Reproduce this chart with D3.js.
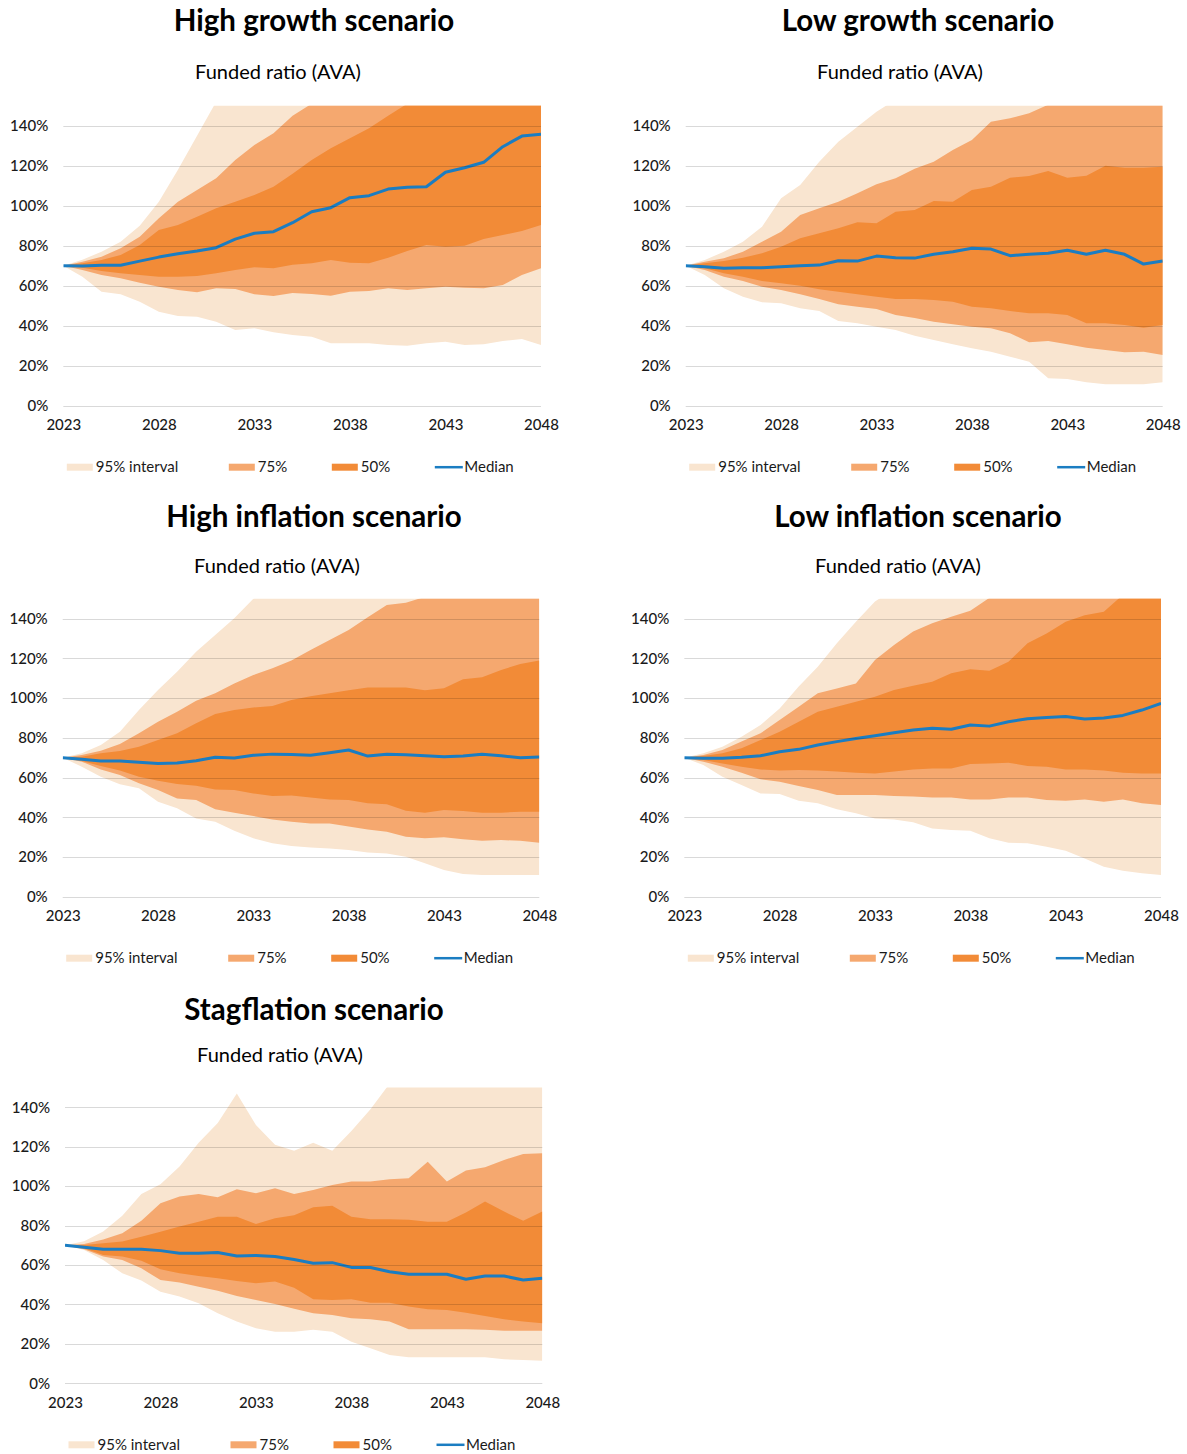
<!DOCTYPE html>
<html><head><meta charset="utf-8">
<script src="https://cdn.jsdelivr.net/npm/d3@7"></script>
<style>body{margin:0;background:#fff} svg{display:block}</style>
</head><body>
<svg id="c" width="1187" height="1454"></svg>
<script>
// ---------- DATA ----------
const years = [2023,2024,2025,2026,2027,2028,2029,2030,2031,2032,2033,2034,2035,2036,2037,2038,2039,2040,2041,2042,2043,2044,2045,2046,2047,2048];
const xTickYears = [2023,2028,2033,2038,2043,2048];
const yTickValues = [0,20,40,60,80,100,120,140];
const scenarioTitles = ["High growth scenario","Low growth scenario","High inflation scenario","Low inflation scenario","Stagflation scenario"];
const subtitle = "Funded ratio (AVA)";
const legendLabels = ["95% interval","75%","50%","Median"];

// High growth
const hgMedian = [70,69.8,70.2,70.2,72.3,74.3,76,77.3,79,83.3,86.2,87,91.5,97,99,104,105,108.3,109.2,109.5,116.7,119,121.7,129.5,134.8,135.7];
const hgHi50 = [70,71.2,72.8,75.3,80.3,87.8,90.3,94.5,98.7,102,105.3,109.5,116,122.8,128.7,133.7,138.7,145,151,156,160,164,168,172,176,180];
const hgLo50 = [70,69,67.3,66.2,65.3,64.5,64.5,64.8,66.2,67.8,69.2,68.7,70.5,71.2,72.8,71.5,71.2,74,77.3,80.3,79.5,80,83.3,85.3,87.3,90.3];
const hgHi75 = [70,72,74.5,78.7,84.5,93.7,102,107.8,113.7,122.8,130.3,136.2,145,151,156,161,166,171,176,181,186,191,196,201,206,211];
const hgLo75 = [70,67.8,65.3,63.7,61.5,59.5,57.8,56.7,58.7,58.3,55.7,54.8,56.3,55.8,55,57,57.3,58.7,57.8,58.7,59.5,59,58.7,60.3,65.3,68.7];
const hgHi95 = [70,73,77,82,90,102,118,135,152,165,175,185,195,205,215,225,235,245,255,265,275,285,295,305,315,325];
const hgLo95 = [70,64.5,57,55.7,52,47,44.8,44.5,42,37.8,38.7,36.7,35.3,34.5,31.2,31.2,31.2,30.3,30,31.2,32,30.3,30.7,32.3,33.3,30.3];

// Low growth
const lgMedian = [70,69.5,68.7,69,69,69.5,70,70.3,72.5,72.3,74.8,74,73.8,75.7,77,78.7,78.3,75,75.7,76.2,77.7,75.7,77.7,75.7,70.8,72.3];
const lgHi50 = [70,71.2,72.3,74,76.2,79.5,83.7,86.2,88.7,91.7,91.2,97,97.8,102.3,102,107.8,109.5,114,114.8,117.3,114,115,120,119,119,119.5];
const lgLo50 = [70,68.7,66.2,64.5,62.3,61.2,60,58.2,57,55.7,54.5,53.3,53.3,52.8,52,49.5,48.7,47.3,46.2,46.2,45.3,41.2,41.2,40.3,39,40.3];
const lgHi75 = [70,72,73.7,77,82,87,95.3,98.7,102,106.2,110.7,113.7,118.5,122,127.8,132.8,142,143.7,146.2,150.5,155,160,165,170,175,180];
const lgLo75 = [70,67.8,64.5,62.3,59.5,57.8,55.7,53.3,50.7,49.5,48.3,45.3,43.8,42,40.7,39.5,38.7,36.2,31.7,32.3,30.7,29,27.8,26.7,27,25.3];
const lgHi95 = [70,72.8,77,82,89.5,103.7,110.3,122,132,139.5,147,153,160,167,174,181,188,195,202,209,216,223,230,237,244,251];
const lgLo95 = [70,65.3,58.7,54.5,51.7,51.2,48.7,47.3,42.3,41.2,39.5,37.8,35,32.8,30.7,28.7,27,24.5,22,13.7,13.3,11.7,10.7,10.7,10.7,11.7];

// High inflation
const hiMedian = [70,69.2,68.3,68.3,67.7,67.1,67.3,68.5,70.2,69.8,71.2,71.8,71.6,71.2,72.5,73.9,70.8,71.7,71.5,71,70.5,70.8,71.7,71,70,70.3];
const hiHi50 = [70,70.5,72.2,73.4,75.5,78.9,82.3,87.3,92,94,95.3,96,99,101,102.4,104,105.4,105.4,105.4,104,105,109.5,110.5,114.2,117.2,118.9];
const hiLo50 = [70,68.3,65.8,63.5,60.4,58.4,56.7,55.9,54,53.7,52,50.7,51,50,49,48.7,47,46.5,43.3,42.3,43.6,43.1,42.3,42.3,42.8,42.8];
const hiHi75 = [70,71.3,73.5,76.9,82.3,88.1,93.2,98.7,102.4,107.4,111.6,115,119,124.2,129.3,134.3,140.7,146.9,148,151,156,160,165,170,175,180];
const hiLo75 = [70,68,64.1,61.3,57.1,53.7,49.5,48.7,44,42.3,40.6,38.9,37.8,36.9,36.9,35.3,33.9,32.7,30.2,29.4,29.9,28.9,28.2,28.5,28.2,27.2];
const hiHi95 = [70,72.2,76.4,83.1,94,104.1,113.3,123.4,131.8,140.2,150,158,165,172,179,186,193,200,207,214,221,228,235,242,249,256];
const hiLo95 = [70,65.5,60.4,56.6,54.6,47.8,44.5,39.4,37.8,33.2,29.4,26.9,25.5,24.8,24.3,23.5,22.2,21.8,20.1,16.8,13.4,11.4,10.9,10.9,10.9,10.9];

// Low inflation
const liMedian = [70,69.7,69.7,70.2,71,73,74.2,76.4,78.1,79.7,81.1,82.6,84,84.8,84.3,86.5,85.9,88.1,89.6,90.3,90.7,89.5,90,91.3,94,97.4];
const liHi50 = [70,70.8,72.2,74.7,78.9,83.1,88.1,93.2,95.7,98.2,100.7,104.1,106.2,108.3,112.5,114.5,113.8,118.3,127.6,132.6,138.5,141.8,143.5,152,158,163];
const liLo50 = [70,68.8,67.1,65.5,64.1,63.5,63.8,63.5,63,62.4,62.1,63,64,64.6,64.6,66.8,67.1,67.5,65.8,65.5,64.1,64.1,63.5,62.4,62.1,62.1];
const liHi75 = [70,71.3,73.9,78.1,82.3,89,95.7,102.4,104.9,107.4,119.2,126.7,133.5,137.7,141,144,150.5,156,161,166,171,176,181,186,191,196];
const liLo75 = [70,68,65.5,62.4,59.1,57.9,55.7,53.7,51.2,51.2,51.2,50.7,50.4,50,49.9,49,49,50,49.9,48.7,48.3,49,47.8,49,47,46.2];
const liHi95 = [70,72.2,75.5,80.6,86.5,94.8,105.8,115.8,127.6,138.5,148.6,155,162,169,176,183,190,197,204,211,218,225,232,239,246,253];
const liLo95 = [70,66.3,60.4,56.2,52,51.7,48.3,47,44,42,39.4,38.9,37.5,34.4,33.6,33.2,29.4,27.2,26.9,25.2,23.2,19.3,15.1,13.1,11.8,10.9];

// Stagflation
const sfMedian = [70,69,68,68,68,67.3,66,66,66.3,64.6,64.8,64.3,62.8,60.9,61.2,58.8,58.7,56.6,55.3,55.3,55.3,52.8,54.4,54.4,52.4,53.3];
const sfHi50 = [70,70.2,71,71.9,74.4,76.9,79.5,82,84.5,84.5,80.8,83.7,85.2,89.3,90,84.5,83.2,83.2,82.9,82,82,86.6,92.2,87.1,82.5,87.1];
const sfLo50 = [70,68.5,65.1,64.3,62.1,57.8,55.8,54.4,53.3,51.9,50.7,51.6,48.5,42.6,42.3,42.6,40.9,40.9,38.9,37.5,37.2,35.8,34.2,32.5,31.3,30.4];
const sfHi75 = [70,70.7,73,76.1,82.5,91.3,94.7,96,94.4,98.4,96.4,98.9,96,98.1,100.6,102.3,102.3,103.5,104,112.4,102.3,107.9,109.6,113.3,116.3,116.7];
const sfLo75 = [70,68,64.3,62.6,58.3,52.4,51.1,49,47,44.3,42.3,40.2,37.8,35.5,34.7,33,32.5,31.3,27.4,27.4,27.4,27.4,27.1,26.7,26.7,26.7];
const sfHi95 = [70,72,77,85,96,101,110,122,132,147,131,121,118,122,118,128,139,152,160,165,170,175,180,185,190,195];
const sfLo95 = [70,67.6,62.6,55.8,52.1,46.5,44,40.6,35.5,31.3,27.9,26.2,26.2,27.1,26.2,21.1,17.8,14.4,13.2,13.2,13.2,13.2,13.2,12.2,11.8,11.5];

const scenarioSeries = [
  {median:hgMedian, hi50:hgHi50, lo50:hgLo50, hi75:hgHi75, lo75:hgLo75, hi95:hgHi95, lo95:hgLo95},
  {median:lgMedian, hi50:lgHi50, lo50:lgLo50, hi75:lgHi75, lo75:lgLo75, hi95:lgHi95, lo95:lgLo95},
  {median:hiMedian, hi50:hiHi50, lo50:hiLo50, hi75:hiHi75, lo75:hiLo75, hi95:hiHi95, lo95:hiLo95},
  {median:liMedian, hi50:liHi50, lo50:liLo50, hi75:liHi75, lo75:liLo75, hi95:liHi95, lo95:liLo95},
  {median:sfMedian, hi50:sfHi50, lo50:sfLo50, hi75:sfHi75, lo75:sfLo75, hi95:sfHi95, lo95:sfLo95}
];

// ---------- LAYOUT / STYLE ----------
const layout = [
  {left:63.3, right:541,   y0:405.7,  y140:125.7,  titleX:314, titleY:21,   subX:278, subY:72},
  {left:685.7,right:1162.7,y0:405.7,  y140:125.7,  titleX:918, titleY:21,   subX:900, subY:72},
  {left:62.7, right:539.3, y0:896.7,  y140:618.7,  titleX:314, titleY:517,  subX:277, subY:566},
  {left:684.3,right:1161,  y0:896.7,  y140:618.7,  titleX:918, titleY:517,  subX:898, subY:566},
  {left:65,   right:542.3, y0:1383.3, y140:1107.3, titleX:314, titleY:1010, subX:280, subY:1055}
];
const C = {light:"#f9e5d0", mid:"#f5a86f", dark:"#f28b37", blue:"#1b7dc2", grid:"#000", text:"#1a1a1a"};
const FONT = "Lato, 'Noto Sans', sans-serif";

const svg = d3.select("#c");

layout.forEach((L, k) => {
  const s = scenarioSeries[k];
  const x = d3.scaleLinear().domain([years[0], years[years.length-1]]).range([L.left, L.right]);
  const y = d3.scaleLinear().domain([0,140]).range([L.y0, L.y140]);
  const yTop = y(150);
  const g = svg.append("g");

  const clipId = "clip"+k;
  g.append("clipPath").attr("id", clipId).append("rect")
    .attr("x", L.left).attr("y", yTop).attr("width", L.right-L.left).attr("height", L.y0 - yTop + 1);

  const plot = g.append("g").attr("clip-path", `url(#${clipId})`);
  const band = (lo, hi) => d3.area().x((d,i)=>x(years[i])).y0((d,i)=>y(lo[i])).y1((d,i)=>y(hi[i]))(years);

  plot.append("path").attr("d", band(s.lo95, s.hi95)).attr("fill", C.light);
  plot.append("path").attr("d", band(s.lo75, s.hi75)).attr("fill", C.mid);
  plot.append("path").attr("d", band(s.lo50, s.hi50)).attr("fill", C.dark);

  // gridlines (overlay, semi-transparent)
  g.append("g").selectAll("line").data(yTickValues).join("line")
    .attr("x1", L.left).attr("x2", L.right)
    .attr("y1", d=>Math.round(y(d))+0.5).attr("y2", d=>Math.round(y(d))+0.5)
    .attr("stroke", C.grid).attr("stroke-opacity", 0.15).attr("stroke-width", 1);

  const line = d3.line().x((d,i)=>x(years[i])).y(d=>y(d));
  plot.append("path").attr("d", line(s.median)).attr("fill","none")
    .attr("stroke", C.blue).attr("stroke-width", 3).attr("stroke-linejoin","round");

  // y axis labels
  const yAxis = d3.axisLeft(y).tickValues(yTickValues).tickFormat(d=>d+"%").tickSize(0).tickPadding(15);
  const ya = g.append("g").attr("transform", `translate(${L.left},0)`).call(yAxis);
  ya.select(".domain").remove();
  ya.selectAll("text").attr("font-family", FONT).attr("font-size", 15).attr("fill", C.text).attr("font-weight", 500);

  // x axis labels
  const xAxis = d3.axisBottom(x).tickValues(xTickYears).tickFormat(d3.format("d")).tickSize(0).tickPadding(14);
  const xa = g.append("g").attr("transform", `translate(0,${L.y0})`).call(xAxis);
  xa.select(".domain").remove();
  xa.selectAll("text").attr("font-family", FONT).attr("font-size", 15).attr("fill", C.text).attr("font-weight", 500);

  // titles
  g.append("text").attr("x", L.titleX).attr("y", L.titleY).attr("dy","0.35em")
    .attr("text-anchor","middle").attr("font-family", FONT).attr("font-weight", 700)
    .attr("font-size", 29.5).attr("fill", "#000").text(scenarioTitles[k]);
  g.append("text").attr("x", L.subX).attr("y", L.subY).attr("dy","0.35em")
    .attr("text-anchor","middle").attr("font-family", FONT).attr("font-weight", 400)
    .attr("font-size", 20).attr("fill", "#000").text(subtitle);

  // legend
  const ly = L.y0 + 61.5;
  const lg = g.append("g").attr("transform", `translate(${L.left},${ly})`);
  const items = [
    {dx:3.5,   color:C.light, type:"rect"},
    {dx:165.5, color:C.mid,   type:"rect"},
    {dx:268.5, color:C.dark,  type:"rect"},
    {dx:371.5, color:C.blue,  type:"line"}
  ];
  items.forEach((it, j) => {
    if (it.type === "rect") {
      lg.append("rect").attr("x", it.dx).attr("y", -3.5).attr("width", 26).attr("height", 7).attr("fill", it.color);
    } else {
      lg.append("line").attr("x1", it.dx).attr("x2", it.dx+28).attr("y1", 0).attr("y2", 0)
        .attr("stroke", it.color).attr("stroke-width", 2.5);
    }
    lg.append("text").attr("x", it.dx + (it.type==="rect"?29:29.5)).attr("y", 0).attr("dy","0.35em")
      .attr("font-family", FONT).attr("font-size", 15).attr("fill", C.text).text(legendLabels[j]);
  });
});
</script>
</body></html>
